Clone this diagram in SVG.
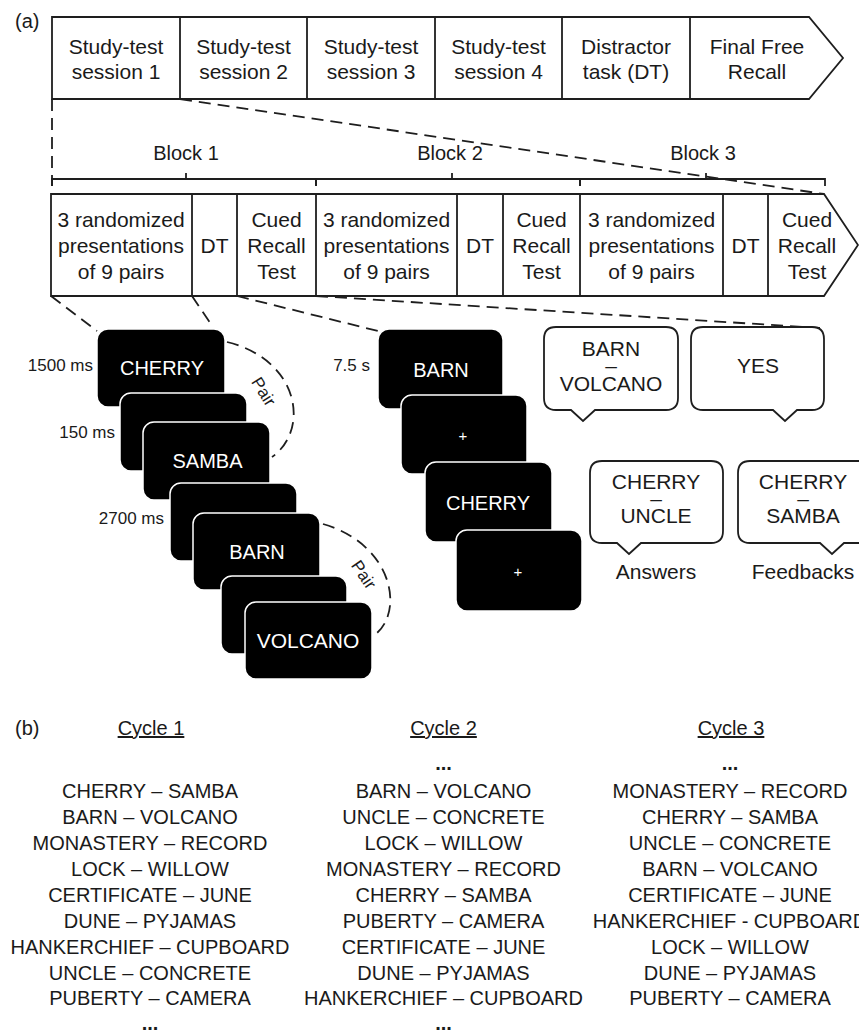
<svg xmlns="http://www.w3.org/2000/svg" width="859" height="1032" viewBox="0 0 859 1032">
<style>
text{font-family:"Liberation Sans",Arial,sans-serif;fill:#1a1a1a;font-size:20px}
.c{text-anchor:middle}
.r{text-anchor:end}
.big{font-size:21px}
.box{fill:#fff;stroke:#1e1e1e;stroke-width:1.8}
.div{stroke:#1e1e1e;stroke-width:1.8}
.dash{fill:none;stroke:#1e1e1e;stroke-width:1.8;stroke-dasharray:12 7}
.card{fill:#000;stroke:#fff;stroke-width:1.5}
.ct{fill:#fff;text-anchor:middle;font-size:20px}
.lbl{font-size:17px}
.bub{fill:#fff;stroke:#1e1e1e;stroke-width:1.8}
.brace{fill:none;stroke:#1e1e1e;stroke-width:1.8}
.dots{font-weight:bold;text-anchor:middle}
</style>
<rect width="859" height="1032" fill="#fff"/>

<text x="15" y="28">(a)</text>

<g id="sessions">
<path class="box" d="M52,17 H809 L843,58 L809,99 H52 Z"/>
<line class="div" x1="180" y1="17" x2="180" y2="99"/>
<line class="div" x1="307" y1="17" x2="307" y2="99"/>
<line class="div" x1="435" y1="17" x2="435" y2="99"/>
<line class="div" x1="562" y1="17" x2="562" y2="99"/>
<line class="div" x1="690" y1="17" x2="690" y2="99"/>
<g id="s1" class="big"><text class="c big" x="116" y="54">Study-test</text><text class="c big" x="116" y="79">session 1</text></g>
<g id="s2"><text class="c big" x="243.5" y="54">Study-test</text><text class="c big" x="243.5" y="79">session 2</text></g>
<g id="s3"><text class="c big" x="371" y="54">Study-test</text><text class="c big" x="371" y="79">session 3</text></g>
<g id="s4"><text class="c big" x="498.5" y="54">Study-test</text><text class="c big" x="498.5" y="79">session 4</text></g>
<g id="dt"><text class="c big" x="626" y="54">Distractor</text><text class="c big" x="626" y="79">task (DT)</text></g>
<g id="ffr"><text class="c big" x="757" y="54">Final Free</text><text class="c big" x="757" y="79">Recall</text></g>
</g>

<g id="blocks">
<path class="brace" d="M52,186 V179 H316 V186 M186,179 V173"/>
<path class="brace" d="M316,186 V179 H580 V186 M452,179 V173"/>
<path class="brace" d="M580,186 V179 H825 V186 M706,179 V173"/>
<text class="c" x="186" y="160">Block 1</text>
<text class="c" x="450" y="160">Block 2</text>
<text class="c" x="703" y="160">Block 3</text>
<path class="box" d="M51,194 H824 L858,245 L824,296 H51 Z"/>
<line class="div" x1="192" y1="194" x2="192" y2="296"/>
<line class="div" x1="237" y1="194" x2="237" y2="296"/>
<line class="div" x1="316" y1="194" x2="316" y2="296"/>
<line class="div" x1="457" y1="194" x2="457" y2="296"/>
<line class="div" x1="503" y1="194" x2="503" y2="296"/>
<line class="div" x1="580" y1="194" x2="580" y2="296"/>
<line class="div" x1="723" y1="194" x2="723" y2="296"/>
<line class="div" x1="768" y1="194" x2="768" y2="296"/>
<g id="b1p"><text class="c big" x="121" y="227">3 randomized</text><text class="c big" x="121" y="253">presentations</text><text class="c big" x="121" y="279">of 9 pairs</text></g>
<g id="b1d"><text class="c big" x="214.5" y="253">DT</text></g>
<g id="b1c"><text class="c big" x="276.5" y="227">Cued</text><text class="c big" x="276.5" y="253">Recall</text><text class="c big" x="276.5" y="279">Test</text></g>
<g id="b2p"><text class="c big" x="386.5" y="227">3 randomized</text><text class="c big" x="386.5" y="253">presentations</text><text class="c big" x="386.5" y="279">of 9 pairs</text></g>
<g id="b2d"><text class="c big" x="480" y="253">DT</text></g>
<g id="b2c"><text class="c big" x="541.5" y="227">Cued</text><text class="c big" x="541.5" y="253">Recall</text><text class="c big" x="541.5" y="279">Test</text></g>
<g id="b3p"><text class="c big" x="651.5" y="227">3 randomized</text><text class="c big" x="651.5" y="253">presentations</text><text class="c big" x="651.5" y="279">of 9 pairs</text></g>
<g id="b3d"><text class="c big" x="745.5" y="253">DT</text></g>
<g id="b3c"><text class="c big" x="807" y="227">Cued</text><text class="c big" x="807" y="253">Recall</text><text class="c big" x="807" y="279">Test</text></g>
</g>

<g id="connectors">
<line class="dash" x1="180" y1="99" x2="824" y2="194"/>
<line class="dash" x1="52" y1="99" x2="52" y2="186"/>
<line class="dash" x1="51" y1="296" x2="97" y2="331"/>
<line class="dash" x1="192" y1="296" x2="213" y2="327"/>
<line class="dash" x1="237" y1="296" x2="378" y2="331"/>
<line class="dash" x1="316" y1="296" x2="820" y2="328"/>
<path class="dash" d="M227,342 C300,360 310,430 272,457"/>
<path class="dash" d="M323,524 C395,545 405,615 373,636"/>
</g>

<g id="study-cards">
<g id="card-cherry"><rect class="card" x="97" y="329" width="128" height="78" rx="11"/><text class="ct" x="162" y="375">CHERRY</text></g>
<g id="card-blank1"><rect class="card" x="120" y="393" width="127" height="78" rx="11"/></g>
<g id="card-samba"><rect class="card" x="143" y="422" width="127" height="78" rx="11"/><text class="ct" x="207.5" y="468">SAMBA</text></g>
<g id="card-blank2"><rect class="card" x="170" y="483" width="127" height="78" rx="11"/></g>
<g id="card-barn"><rect class="card" x="193" y="513" width="127" height="77" rx="11"/><text class="ct" x="257" y="559">BARN</text></g>
<g id="card-blank3"><rect class="card" x="221" y="576" width="126" height="78" rx="11"/></g>
<g id="card-volcano"><rect class="card" x="245" y="602" width="127" height="77" rx="11"/><text class="ct" x="308" y="648" style="font-size:21px">VOLCANO</text></g>
<text class="lbl r" x="93" y="371">1500 ms</text>
<text class="lbl r" x="115" y="438">150 ms</text>
<text class="lbl r" x="164" y="524">2700 ms</text>
<text class="lbl c" x="0" y="0" transform="translate(263,392) rotate(58)" dy="5">Pair</text>
<text class="lbl c" x="0" y="0" transform="translate(363,575) rotate(56)" dy="5">Pair</text>
</g>

<g id="test-cards">
<text class="lbl r" x="370" y="371">7.5 s</text>
<g id="tcard-barn"><rect class="card" x="378" y="329" width="125" height="80" rx="11"/><text class="ct" x="441" y="377">BARN</text></g>
<g id="tcard-fix1"><rect class="card" x="401" y="395" width="126" height="79" rx="11"/><text class="ct" x="463" y="441" style="font-size:15px">+</text></g>
<g id="tcard-cherry"><rect class="card" x="425" y="462" width="127" height="80" rx="11"/><text class="ct" x="488" y="510">CHERRY</text></g>
<g id="tcard-fix2"><rect class="card" x="456" y="530" width="126" height="81" rx="11"/><text class="ct" x="518" y="577" style="font-size:15px">+</text></g>
</g>

<g id="bubble-barn">
<path class="bub" d="M556,327 H666 Q678,327 678,339 V398 Q678,410 666,410 H595 L583,421 L571,410 H556 Q544,410 544,398 V339 Q544,327 556,327 Z"/>
<text class="c big" x="611" y="356">BARN</text><text class="c big" x="611" y="373">–</text><text class="c big" x="611" y="391">VOLCANO</text>
</g>
<g id="bubble-yes">
<path class="bub" d="M703,327 H812 Q824,327 824,339 V398 Q824,410 812,410 H797 L785,421 L773,410 H703 Q691,410 691,398 V339 Q691,327 703,327 Z"/>
<text class="c big" x="758" y="373">YES</text>
</g>
<g id="bubble-answer">
<path class="bub" d="M602,461 H711 Q723,461 723,473 V531 Q723,543 711,543 H641 L629,554 L617,543 H602 Q590,543 590,531 V473 Q590,461 602,461 Z"/>
<text class="c big" x="656" y="489">CHERRY</text><text class="c big" x="656" y="506">–</text><text class="c big" x="656" y="523">UNCLE</text>
<text class="c big" x="656" y="579">Answers</text>
</g>
<g id="bubble-feedback">
<path class="bub" d="M750,461 H859 Q871,461 871,473 V531 Q871,543 859,543 H844 L832,554 L820,543 H750 Q738,543 738,531 V473 Q738,461 750,461 Z"/>
<text class="c big" x="803" y="489">CHERRY</text><text class="c big" x="803" y="506">–</text><text class="c big" x="803" y="523">SAMBA</text>
<text class="c big" x="803" y="579">Feedbacks</text>
</g>

<text x="15" y="735">(b)</text>

<g id="cycle1">
<text class="c" x="151" y="735" text-decoration="underline">Cycle 1</text>
<text class="c" x="150" y="798">CHERRY – SAMBA</text>
<text class="c" x="150" y="824">BARN – VOLCANO</text>
<text class="c" x="150" y="850">MONASTERY – RECORD</text>
<text class="c" x="150" y="876">LOCK – WILLOW</text>
<text class="c" x="150" y="901.5">CERTIFICATE – JUNE</text>
<text class="c" x="150" y="927.5">DUNE – PYJAMAS</text>
<text class="c" x="150" y="953.5">HANKERCHIEF – CUPBOARD</text>
<text class="c" x="150" y="979.5">UNCLE – CONCRETE</text>
<text class="c" x="150" y="1005">PUBERTY – CAMERA</text>
<text class="dots" x="150" y="1030">...</text>
</g>

<g id="cycle2">
<text class="c" x="443.5" y="735" text-decoration="underline">Cycle 2</text>
<text class="dots" x="443.5" y="770">...</text>
<text class="c" x="443.5" y="798">BARN – VOLCANO</text>
<text class="c" x="443.5" y="824">UNCLE – CONCRETE</text>
<text class="c" x="443.5" y="850">LOCK – WILLOW</text>
<text class="c" x="443.5" y="876">MONASTERY – RECORD</text>
<text class="c" x="443.5" y="901.5">CHERRY – SAMBA</text>
<text class="c" x="443.5" y="927.5">PUBERTY – CAMERA</text>
<text class="c" x="443.5" y="953.5">CERTIFICATE – JUNE</text>
<text class="c" x="443.5" y="979.5">DUNE – PYJAMAS</text>
<text class="c" x="443.5" y="1005">HANKERCHIEF – CUPBOARD</text>
<text class="dots" x="443.5" y="1030">...</text>
</g>

<g id="cycle3">
<text class="c" x="731" y="735" text-decoration="underline">Cycle 3</text>
<text class="dots" x="730" y="770">...</text>
<text class="c" x="730" y="798">MONASTERY – RECORD</text>
<text class="c" x="730" y="824">CHERRY – SAMBA</text>
<text class="c" x="730" y="850">UNCLE – CONCRETE</text>
<text class="c" x="730" y="876">BARN – VOLCANO</text>
<text class="c" x="730" y="901.5">CERTIFICATE – JUNE</text>
<text class="c" x="730" y="927.5">HANKERCHIEF - CUPBOARD</text>
<text class="c" x="730" y="953.5">LOCK – WILLOW</text>
<text class="c" x="730" y="979.5">DUNE – PYJAMAS</text>
<text class="c" x="730" y="1005">PUBERTY – CAMERA</text>
</g>
</svg>
